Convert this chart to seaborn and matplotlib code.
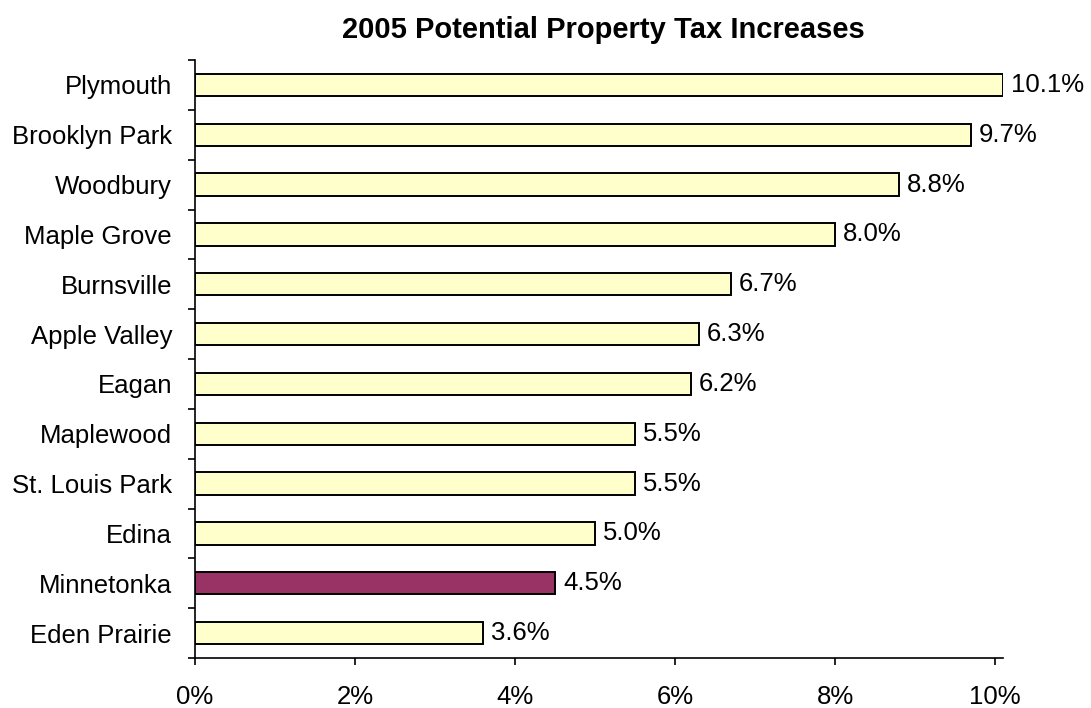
import matplotlib
matplotlib.use("Agg")
import matplotlib.pyplot as plt
import seaborn as sns
import pandas as pd
from matplotlib.ticker import FuncFormatter

cities = ["Plymouth", "Brooklyn Park", "Woodbury", "Maple Grove", "Burnsville",
          "Apple Valley", "Eagan", "Maplewood", "St. Louis Park", "Edina",
          "Minnetonka", "Eden Prairie"]
increase = [10.1, 9.7, 8.8, 8.0, 6.7, 6.3, 6.2, 5.5, 5.5, 5.0, 4.5, 3.6]
highlight = "Minnetonka"

sns.set_theme(style="white")
plt.rcParams['font.family'] = ['Liberation Sans', 'DejaVu Sans']
plt.rcParams['text.color'] = 'black'
plt.rcParams['xtick.labelcolor'] = 'black'
plt.rcParams['ytick.labelcolor'] = 'black'

df = pd.DataFrame({"city": cities, "inc": increase})
palette = {c: ("#993366" if c == highlight else "#FFFFCC") for c in cities}

fig = plt.figure(figsize=(10.91, 7.08), dpi=100)
ax = fig.add_axes([195/1091, 1-658/708, (1003-195)/1091, (658-60)/708])
sns.barplot(data=df, x="inc", y="city", hue="city", palette=palette, legend=False,
            orient="h", width=0.45, edgecolor="black", linewidth=1.4, saturation=1, ax=ax)

for i, v in enumerate(increase):
    ax.text(v + 0.1, i, f"{v:.1f}%", va="center", ha="left", fontsize=18.5, color="black")

ax.set_xlim(0, 10.1)
ax.set_ylim(len(cities) - 0.5, -0.5)
ax.set_xticks([0, 2, 4, 6, 8, 10])
ax.xaxis.set_major_formatter(FuncFormatter(lambda x, p: f"{x:.0f}%"))
ax.set_yticks([i for i in range(len(cities))])
ax.set_yticklabels(cities)
ax.set_yticks([i - 0.5 for i in range(len(cities) + 1)], minor=True)
ax.tick_params(axis="y", which="major", length=0, pad=16.5, labelsize=18.5)
ax.tick_params(axis="y", which="minor", length=5, width=1.2, direction="out", left=True, color="black")
ax.tick_params(axis="x", which="major", length=5, width=1.2, direction="out", bottom=True,
               pad=14.5, labelsize=18.5, color="black")
ax.set_xlabel("")
ax.set_ylabel("")
for s in ["top", "right"]:
    ax.spines[s].set_visible(False)
for s in ["left", "bottom"]:
    ax.spines[s].set_color("black")
    ax.spines[s].set_linewidth(1.2)

fig.text(603/1091, 1-30/708, "2005 Potential Property Tax Increases", ha="center", va="center",
         fontsize=21, fontweight="bold", color="black")

fig.savefig("out.png", dpi=100, facecolor="white")
